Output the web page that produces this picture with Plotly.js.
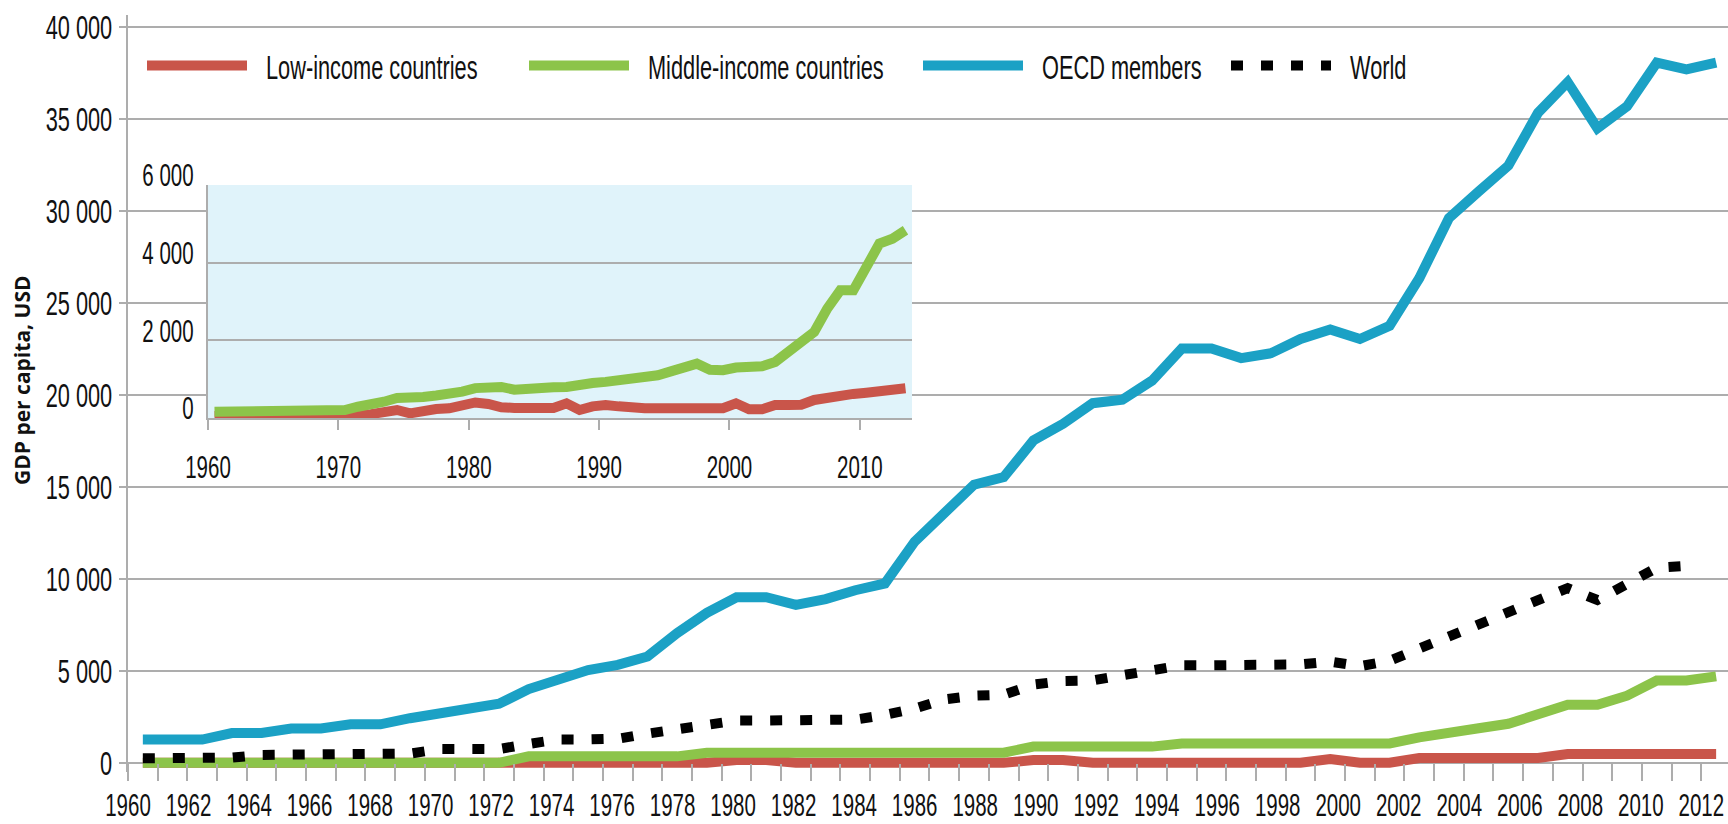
<!DOCTYPE html>
<html>
<head>
<meta charset="utf-8">
<script src="https://cdn.plot.ly/plotly-3.0.1.min.js"></script>
<style>
  html, body { margin: 0; padding: 0; background: #fff; }
  #chart { width: 1728px; height: 824px; }
</style>
</head>
<body>
<div id="chart"></div>
<script>
// Years shown in both panels
const years = [1960, 1961, 1962, 1963, 1964, 1965, 1966, 1967, 1968, 1969,
  1970, 1971, 1972, 1973, 1974, 1975, 1976, 1977, 1978, 1979,
  1980, 1981, 1982, 1983, 1984, 1985, 1986, 1987, 1988, 1989,
  1990, 1991, 1992, 1993, 1994, 1995, 1996, 1997, 1998, 1999,
  2000, 2001, 2002, 2003, 2004, 2005, 2006, 2007, 2008, 2009,
  2010, 2011, 2012, 2013];

// Main chart, GDP per capita in USD
const lowIncome = [0, 0, 0, 0, 0, 0, 0, 0, 0, 0,
  0, 0, 0, 0, 0, 0, 0, 0, 0, 0,
  150, 150, 0, 0, 0, 0, 0, 0, 100, 0,
  150, 150, 0, 0, 0, 0, 0, 0, 0, 0,
  200, 0, 0, 260, 260, 260, 260, 260, 480, 480,
  480, 480, 480, 480];
const middleIncome = [0, 0, 0, 0, 0, 0, 0, 0, 0, 0,
  0, 0, 0, 350, 350, 350, 350, 350, 350, 550,
  550, 550, 550, 550, 550, 550, 550, 550, 550, 550,
  880, 880, 880, 880, 880, 1050, 1050, 1050, 1050, 1050,
  1050, 1050, 1050, 1380, 1680, 1880, 2120, 2650, 3150, 3150,
  3650, 4470, 4470, 4700];
const oecd = [1263, 1263, 1263, 1620, 1620, 1865, 1865, 2090, 2090, 2425,
  2705, 2985, 3210, 4010, 4515, 5040, 5320, 5780, 7050, 8150,
  9000, 9000, 8580, 8900, 9380, 9750, 12020, 13570, 15120, 15530,
  17520, 18430, 19550, 19740, 20780, 22520, 22520, 22000, 22260, 23040,
  23560, 23040, 23760, 26340, 29610, 31050, 32460, 35330, 37000, 34490,
  35690, 38060, 37690, 38060];
const world = [250, 250, 250, 280, 430, 430, 430, 430, 430, 500,
  746, 746, 746, 1026, 1270, 1270, 1306, 1586, 1800, 2050,
  2300, 2300, 2300, 2300, 2350, 2600, 2950, 3450, 3650, 3700,
  4250, 4450, 4480, 4760, 5040, 5300, 5300, 5300, 5300, 5350,
  5500, 5250, 5550, 6200, 6950, 7550, 8150, 8850, 9500, 8850,
  9650, 10600, 10700, null];

// Inset (zoom on the two lower groups)
const insetLow = [50, 50, 50, 50, 50, 50, 50, 50, 50, 50,
  30, 60, 100, 150, 206, 120, 200, 230, 250, 330,
  400, 360, 275, 260, 260, 260, 260, 378, 206, 300,
  335, 300, 250, 250, 250, 250, 250, 250, 250, 250,
  378, 223, 223, 335, 335, 340, 464, 530, 592, 620,
  652, 670, 690, 765];
const insetMiddle = [163, 163, 163, 163, 163, 163, 163, 163, 163, 163,
  206, 290, 330, 420, 515, 515, 540, 580, 600, 680,
  770, 800, 800, 730, 730, 760, 790, 800, 820, 900,
  930, 960, 990, 1030, 1100, 1200, 1280, 1400, 1240, 1230,
  1300, 1313, 1330, 1442, 1700, 1950, 2215, 2816, 3288, 3288,
  3846, 4490, 4618, 4833];

// Tick labels
const labelYears = [1960, 1962, 1964, 1966, 1968, 1970, 1972, 1974, 1976, 1978,
  1980, 1982, 1984, 1986, 1988, 1990, 1992, 1994, 1996, 1998,
  2000, 2002, 2004, 2006, 2008, 2010, 2012];
const insetLabelYears = [1960, 1970, 1980, 1990, 2000, 2010];

const names = ['Low-income countries', 'Middle-income countries', 'OECD members', 'World'];
const colors = {low: '#C9554A', middle: '#8CC44A', oecd: '#1BA1C5', world: '#000000'};

const sans = '"Liberation Sans", Arial, sans-serif';
const grid = '#ADADAD';
const ink = '#111111';
const squeeze = 0.64;   // the source uses a condensed face

// axis ranges (categories sit between the yearly boundaries)
const mainY = [-500, 40650];
const mainX = [1959.5, 2013.4];
const insetX = [1959.5, 2013.5];
const insetY = [0, 6000];
// the year labels in the source run from the first to the last boundary
const labelStep = 53 / 52;

const traces = [
  {x: years, y: lowIncome, name: names[0], type: 'scatter', mode: 'lines',
   line: {color: colors.low, width: 10}, legend: 'legend'},
  {x: years, y: middleIncome, name: names[1], type: 'scatter', mode: 'lines',
   line: {color: colors.middle, width: 10}, legend: 'legend2'},
  {x: years, y: oecd, name: names[2], type: 'scatter', mode: 'lines',
   line: {color: colors.oecd, width: 10}, legend: 'legend3'},
  {x: years, y: world, name: names[3], type: 'scatter', mode: 'lines',
   line: {color: colors.world, width: 10, dash: '12px,18px'}, legend: 'legend4'},
  // inset
  {x: years, y: insetLow, xaxis: 'x2', yaxis: 'y2', type: 'scatter', mode: 'lines',
   line: {color: colors.low, width: 10}, showlegend: false, hoverinfo: 'skip'},
  {x: years, y: insetMiddle, xaxis: 'x2', yaxis: 'y2', type: 'scatter', mode: 'lines',
   line: {color: colors.middle, width: 10}, showlegend: false, hoverinfo: 'skip'}
];

// margins of the main plot area, in px
const M = {l: 128, r: 0, t: 15, b: 52};
const plotW = 1728 - M.l - M.r;
const plotH = 824 - M.t - M.b;

const legendAt = px => ({
  orientation: 'h', xref: 'paper', yref: 'paper',
  x: (px - 8 - M.l) / plotW, xanchor: 'left',
  y: (824 - M.b - 66) / plotH, yanchor: 'middle',
  font: {family: sans, size: 34, color: ink},
  itemwidth: 100, bgcolor: 'rgba(0,0,0,0)', borderwidth: 0
});

const layout = {
  width: 1728, height: 824,
  margin: M,
  paper_bgcolor: '#ffffff', plot_bgcolor: '#ffffff',
  separators: '. ',
  font: {family: sans, size: 34, color: ink},
  showlegend: true,
  legend: legendAt(150),
  legend2: legendAt(532),
  legend3: legendAt(926),
  legend4: legendAt(1234),
  xaxis: {
    range: mainX, tickmode: 'array',
    tickvals: labelYears.map(y => mainX[0] + (y - 1960) * labelStep),
    ticktext: labelYears.map(String), ticklabeloverflow: 'allow',
    tickangle: 0, ticks: '', showgrid: false, zeroline: false, showline: false,
    anchor: 'free', position: (0 - mainY[0]) / (mainY[1] - mainY[0]),
    minor: {tickmode: 'linear', tick0: mainX[0], dtick: 1, ticks: 'outside', ticklen: 17,
            tickwidth: 2, tickcolor: grid, showgrid: false},
    ticklabelstandoff: 20,
    tickfont: {family: sans, size: 32, color: ink}
  },
  yaxis: {
    range: mainY, tickmode: 'linear', tick0: 0, dtick: 5000,
    exponentformat: 'none', separatethousands: true,
    showgrid: true, gridcolor: grid, gridwidth: 2, zeroline: false,
    showline: true, linecolor: grid, linewidth: 2,
    ticks: 'outside', ticklen: 7, tickwidth: 2, tickcolor: grid,
    tickfont: {family: sans, size: 34, color: ink}
  },
  xaxis2: {
    domain: [(208 - M.l) / plotW, (912 - M.l) / plotW], anchor: 'y2', range: insetX,
    tickmode: 'array', tickvals: insetLabelYears.map(y => y - 0.5), ticktext: insetLabelYears.map(String),
    tickangle: 0, ticks: 'outside', ticklen: 10, tickwidth: 2, tickcolor: grid,
    showline: true, linecolor: grid, linewidth: 2, showgrid: false, zeroline: false,
    ticklabelstandoff: 10,
    tickfont: {family: sans, size: 32, color: ink}
  },
  yaxis2: {
    domain: [(824 - M.b - 418) / plotH, (824 - M.b - 185) / plotH], anchor: 'x2', range: insetY,
    tickmode: 'linear', tick0: 0, dtick: 2000, exponentformat: 'none', separatethousands: true,
    showgrid: true, gridcolor: grid, gridwidth: 2, zeroline: false,
    showline: true, linecolor: grid, linewidth: 2, ticks: '',
    ticklabelshift: -10, ticklabelstandoff: 6,
    tickfont: {family: sans, size: 32, color: ink}
  },
  annotations: [{
    text: 'GDP per capita, USD', textangle: -90, showarrow: false,
    xref: 'paper', yref: 'paper', x: (22 - M.l) / plotW, y: (824 - M.b - 380) / plotH,
    xanchor: 'center', yanchor: 'middle',
    font: {family: '"Open Sans", sans-serif', size: 21, weight: 700, color: ink}
  }],
  shapes: [{
    type: 'rect', xref: 'x2', yref: 'y2', layer: 'below',
    x0: insetX[0], x1: insetX[1], y0: insetY[0], y1: insetY[1],
    fillcolor: '#E0F3FA', line: {width: 0}
  }]
};

// narrow the label glyphs around their anchor point (safe to run repeatedly)
const labelSel = '.xtick text, .x2tick text, .ytick text, .y2tick text, ' +
                 '.legendtext, .infolayer g[class^="legend"] text';
function narrowLabels(gd) {
  gd.querySelectorAll(labelSel).forEach(t => {
    const current = t.getAttribute('transform') || '';
    if (t.dataset.mine === current) return;
    const x = parseFloat(t.getAttribute('x')) || 0;
    const isLegend = !!t.closest('.infolayer');
    const nudge = isLegend ? 14 : 0;
    const next = `${current} translate(${x + nudge},0) scale(${squeeze},1) translate(${-x},0)`;
    t.setAttribute('transform', next);
    t.dataset.mine = next;
  });
}

const chart = document.getElementById('chart');
new MutationObserver(() => narrowLabels(chart))
  .observe(chart, {subtree: true, childList: true, attributes: true, attributeFilter: ['transform', 'x']});

Plotly.newPlot(chart, traces, layout, {displayModeBar: false, staticPlot: true}).then(gd => {
  narrowLabels(gd);
  requestAnimationFrame(() => narrowLabels(gd));
  setTimeout(() => narrowLabels(gd), 50);
  setTimeout(() => narrowLabels(gd), 300);
});
</script>
</body>
</html>
